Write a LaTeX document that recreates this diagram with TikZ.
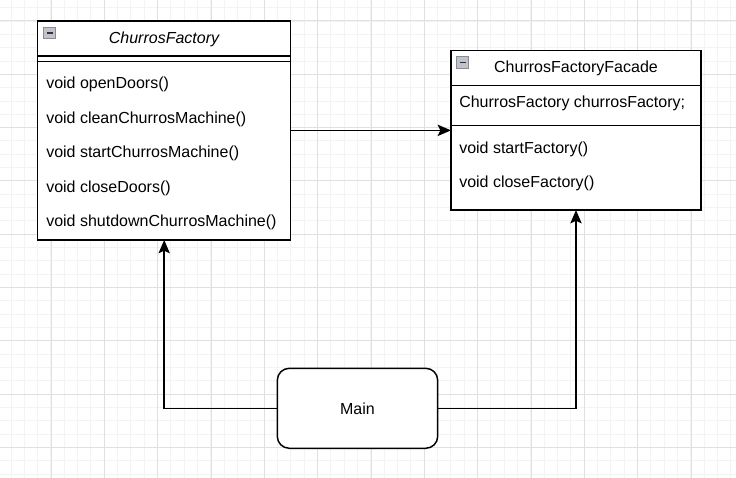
\documentclass[tikz,border=0pt]{standalone}
\usepackage{fontspec}
\setmainfont{Liberation Sans}
\usetikzlibrary{arrows.meta}
\definecolor{gridminor}{HTML}{F3F3F3}
\definecolor{gridmajor}{HTML}{E0E0E0}
\definecolor{icongray}{HTML}{BFC3CB}

\tikzset{
  umlbox/.style={draw, line width=1.1pt, inner sep=0pt, outer sep=0pt, anchor=north west, fill=white},
  rowtext/.style={anchor=west, inner sep=0pt, font=\fontsize{12}{14}\selectfont},
  titletext/.style={inner sep=0pt, font=\fontsize{12}{14}\selectfont},
  minusicon/.style={draw=gray!90, fill=icongray, line width=0.7pt, minimum size=8.5pt, inner sep=0pt,
    path picture={\draw[line width=1.3pt, black!80] ([xshift=2pt]path picture bounding box.west) -- ([xshift=-2pt]path picture bounding box.east);}},
  arr/.style={line width=1.1pt, -{Stealth[length=10pt,width=8.5pt,inset=2pt]}}
}

\begin{document}
\begin{tikzpicture}[x=0.75pt,y=0.75pt,yscale=-1,xscale=1]
\useasboundingbox (0,0) rectangle (736,478);
% grid
\foreach \k in {0,...,54} \draw[gridminor, line width=0.75pt] ({11+13.333*\k},0) -- ({11+13.333*\k},478);
\foreach \k in {0,...,35} \draw[gridminor, line width=0.75pt] (0,{7.67+13.333*\k}) -- (736,{7.67+13.333*\k});
\foreach \k in {0,...,14} \draw[gridmajor, line width=0.75pt] ({-2.33+53.333*\k},0) -- ({-2.33+53.333*\k},478);
\foreach \k in {0,...,9} \draw[gridmajor, line width=0.75pt] (0,{21+53.333*\k}) -- (736,{21+53.333*\k});

% ChurrosFactory
\node[umlbox, minimum width=189.75pt, minimum height=164.25pt] (cf) at (37.7,21) {};
\draw[line width=1.1pt] (37.7,56) -- (290.7,56);
\draw[line width=1.1pt] (37.7,61.3) -- (290.7,61.3);
\node[minusicon] (cficon) at (49.5,33) {};
\node[titletext, font=\fontsize{12}{14}\selectfont\itshape] (cftitle) at (164,39) {ChurrosFactory};
\node[rowtext] (cfm1) at (46,84.5) {void openDoors()};
\node[rowtext] (cfm2) at (46,119) {void cleanChurrosMachine()};
\node[rowtext] (cfm3) at (46,153.5) {void startChurrosMachine()};
\node[rowtext] (cfm4) at (46,188) {void closeDoors()};
\node[rowtext] (cfm5) at (46,222.5) {void shutdownChurrosMachine()};

% ChurrosFactoryFacade
\node[umlbox, minimum width=187.5pt, minimum height=119.5pt] (fa) at (451,50.7) {};
\draw[line width=1.1pt] (451,85.7) -- (701,85.7);
\draw[line width=1.1pt] (451,125.3) -- (701,125.3);
\node[minusicon] (faicon) at (462.5,62.5) {};
\node[titletext] (fatitle) at (576,68.5) {ChurrosFactoryFacade};
\node[rowtext] (faattr) at (459,103.5) {ChurrosFactory churrosFactory;};
\node[rowtext] (fam1) at (459,149.5) {void startFactory()};
\node[rowtext] (fam2) at (459,183.5) {void closeFactory()};

% Main
\node[umlbox, rounded corners=9pt, minimum width=120.3pt, minimum height=60pt] (main) at (277.3,368.3) {};
\node[titletext] (maintext) at (main.center) {Main};

% connectors
\draw[arr] (cf.east |- fa.west) -- (fa.west);
\draw[arr] (main.west) -| (cf.south);
\draw[arr] (main.east) -| (fa.south);
\end{tikzpicture}
\end{document}
